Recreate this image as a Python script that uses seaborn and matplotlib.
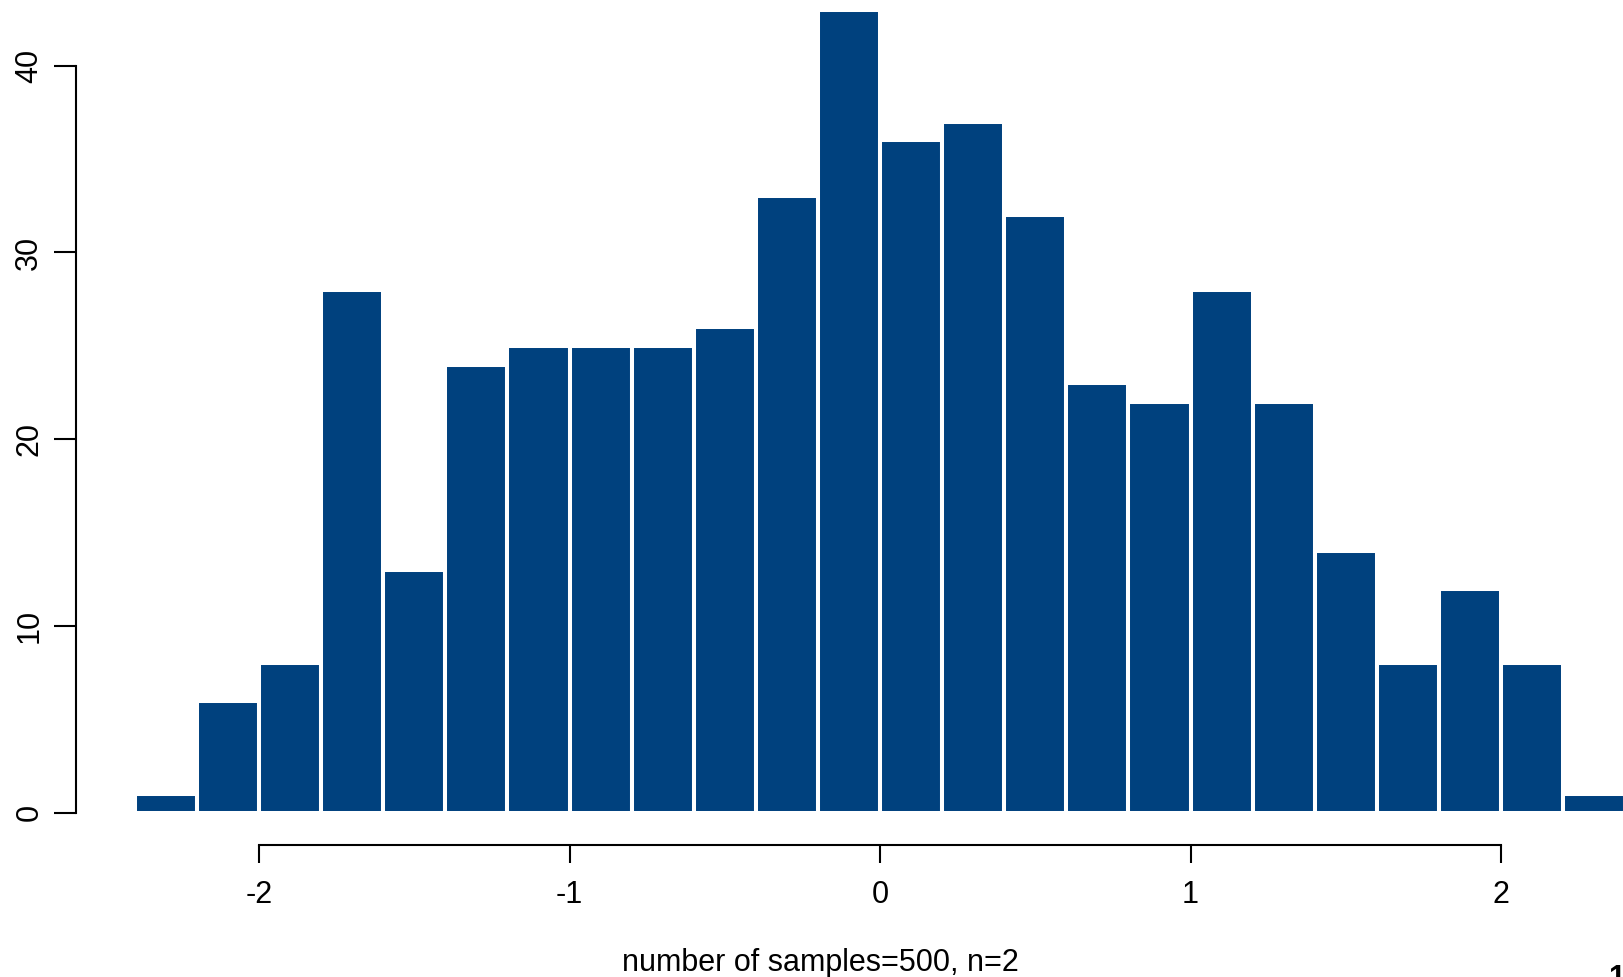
import numpy as np
import pandas as pd
import matplotlib
matplotlib.use("Agg")
import matplotlib.pyplot as plt
import seaborn as sns

# Histogram data (bins of width 0.2 from -2.4 to 2.4)
bin_edges = [-2.4, -2.2, -2.0, -1.8, -1.6, -1.4, -1.2, -1.0, -0.8, -0.6, -0.4, -0.2,
             0.0, 0.2, 0.4, 0.6, 0.8, 1.0, 1.2, 1.4, 1.6, 1.8, 2.0, 2.2, 2.4]
counts = [1, 6, 8, 28, 13, 24, 25, 25, 25, 26, 33, 43,
          36, 37, 32, 23, 22, 28, 22, 14, 8, 12, 8, 1]
x_ticks = [-2, -1, 0, 1, 2]
y_ticks = [0, 10, 20, 30, 40]
x_label = "number of samples=500, n=2"

centers = [(bin_edges[i] + bin_edges[i + 1]) / 2 for i in range(len(counts))]
df = pd.DataFrame({"x": centers, "w": counts})

sns.set_style("white")
plt.rcParams["font.family"] = ["Liberation Sans", "DejaVu Sans"]
plt.rcParams["text.color"] = "black"

W, H = 1623, 977
fig = plt.figure(figsize=(W / 100, H / 100), dpi=100)
ax = fig.add_axes([0, 0, 1, 1])
ax.patch.set_alpha(0)

sns.histplot(data=df, x="x", weights="w", bins=bin_edges, ax=ax,
             color="#00417E", edgecolor="white", linewidth=2.9, alpha=1)

# pixel mapping
x0_px, ux = 880.0, 310.5
y0_px, uy = 812.7, 18.675
ax.set_xlim(-x0_px / ux, (W - x0_px) / ux)
ax.set_ylim((y0_px - H) / uy, y0_px / uy)

ax.set_xlabel("")
ax.set_ylabel("")
for s in ["top", "right"]:
    ax.spines[s].set_visible(False)
ax.spines["left"].set_position(("data", (76 - x0_px) / ux))
ax.spines["left"].set_bounds(0, 40)
ax.spines["bottom"].set_position(("data", (y0_px - 845) / uy))
ax.spines["bottom"].set_bounds(-2, 2)
for s in ["left", "bottom"]:
    ax.spines[s].set_linewidth(1.5)
    ax.spines[s].set_color("black")

ax.set_xticks(x_ticks)
ax.set_xticklabels([str(v) for v in x_ticks])
ax.set_yticks(y_ticks)
ax.set_yticklabels([str(v) for v in y_ticks])
ax.tick_params(axis="x", direction="out", length=13, width=1.5, pad=12,
               labelsize=22, colors="black", bottom=True)
ax.tick_params(axis="y", direction="out", length=15.8, width=1.5, pad=7,
               labelsize=22, colors="black", left=True, labelrotation=90)
for lab in ax.get_yticklabels():
    lab.set_va("center")
    lab.set_ha("right")

fig.text(820 / W, 1 - 971 / H, x_label, ha="center", va="baseline", fontsize=22,
         color="black")
fig.text(1608 / W, 1 - 987 / H, "1", ha="left", va="baseline", fontsize=22,
         fontweight="bold", color="black")

fig.savefig("out.png", dpi=100)
